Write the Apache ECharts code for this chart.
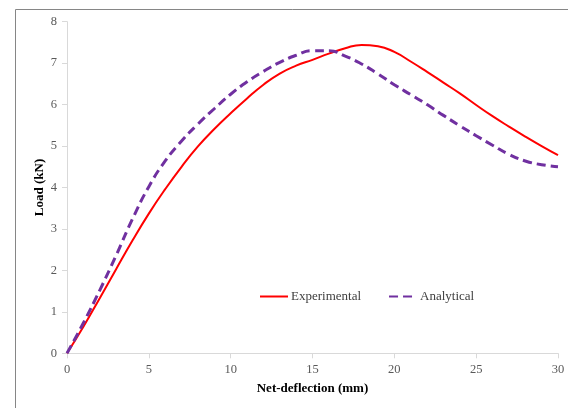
<!DOCTYPE html>
<html>
<head>
<meta charset="utf-8">
<script src="https://cdn.jsdelivr.net/npm/echarts@6/dist/echarts.min.js"></script>
<style>html,body{margin:0;padding:0;background:#fff;}#c{width:568px;height:408px;}</style>
</head>
<body>
<div id="c"></div>
<script>
const deflection = [0,1,2,3,4,5,6,7,8,9,10,11,12,13,14,15,16,17,18,19,20,21,22,23,24,25,26,27,28,29,30];
const experimental = [0,0.64,1.33,2.03,2.72,3.37,3.96,4.5,4.99,5.41,5.79,6.15,6.48,6.75,6.94,7.08,7.23,7.36,7.44,7.41,7.27,7.04,6.79,6.53,6.27,5.99,5.72,5.47,5.23,5.0,4.78];
const analytical = [0,0.73,1.52,2.36,3.24,4.02,4.64,5.12,5.53,5.9,6.25,6.55,6.8,7.02,7.19,7.3,7.3,7.17,6.98,6.74,6.48,6.24,6.0,5.74,5.49,5.25,5.02,4.8,4.64,4.55,4.5];
const xTicks = {min: 0, max: 30, interval: 5};
const yTicks = {min: 0, max: 8, interval: 1};

const font = "'Liberation Serif','Times New Roman',serif";
const chart = echarts.init(document.getElementById('c'), null, {renderer: 'canvas'});
const pair = (ys) => deflection.map((x, i) => [x, ys[i]]);
chart.setOption({
  animation: false,
  backgroundColor: '#fff',
  graphic: [{
    type: 'rect', silent: true, z: -1,
    shape: {x: 15.5, y: 9.5, width: 700, height: 500},
    style: {fill: 'none', stroke: '#868686', lineWidth: 1}
  }],
  grid: {left: 67, right: 10, top: 21.7, bottom: 54.7},
  legend: {
    left: 259, top: 290, padding: 0, itemWidth: 28, itemHeight: 14, itemGap: 27,
    itemStyle: {opacity: 0},
    textStyle: {fontFamily: font, fontSize: 13, color: '#404040', padding: [0, 0, 0, -2]},
    data: ['Experimental', 'Analytical']
  },
  xAxis: {
    type: 'value', min: xTicks.min, max: xTicks.max, interval: xTicks.interval,
    name: 'Net-deflection (mm)', nameLocation: 'middle', nameGap: 29, nameMoveOverlap: false,
    nameTextStyle: {fontFamily: font, fontSize: 13, fontWeight: 'bold', color: '#000'},
    axisLine: {lineStyle: {color: '#d9d9d9', width: 1}},
    axisTick: {show: true, inside: false, length: 5, lineStyle: {color: '#d9d9d9'}},
    axisLabel: {fontFamily: font, fontSize: 12.5, color: '#595959', margin: 10},
    splitLine: {show: false}
  },
  yAxis: {
    type: 'value', min: yTicks.min, max: yTicks.max, interval: yTicks.interval,
    name: 'Load (kN)', nameLocation: 'middle', nameGap: 21, nameRotate: 90, nameMoveOverlap: false,
    nameTextStyle: {fontFamily: font, fontSize: 13, fontWeight: 'bold', color: '#000'},
    axisLine: {show: true, lineStyle: {color: '#d9d9d9', width: 1}},
    axisTick: {show: true, inside: false, length: 5, lineStyle: {color: '#d9d9d9'}},
    axisLabel: {fontFamily: font, fontSize: 12.5, color: '#595959', margin: 10},
    splitLine: {show: false}
  },
  series: [
    {
      name: 'Experimental', type: 'line', symbol: 'none', smooth: 0.5,
      data: pair(experimental),
      lineStyle: {color: '#ff0000', width: 2},
      itemStyle: {color: '#ff0000'}
    },
    {
      name: 'Analytical', type: 'line', symbol: 'none', smooth: 0.5,
      data: pair(analytical),
      lineStyle: {color: '#7030a0', width: 3, type: [9, 5]},
      itemStyle: {color: '#7030a0'}
    }
  ]
});
</script>
</body>
</html>
